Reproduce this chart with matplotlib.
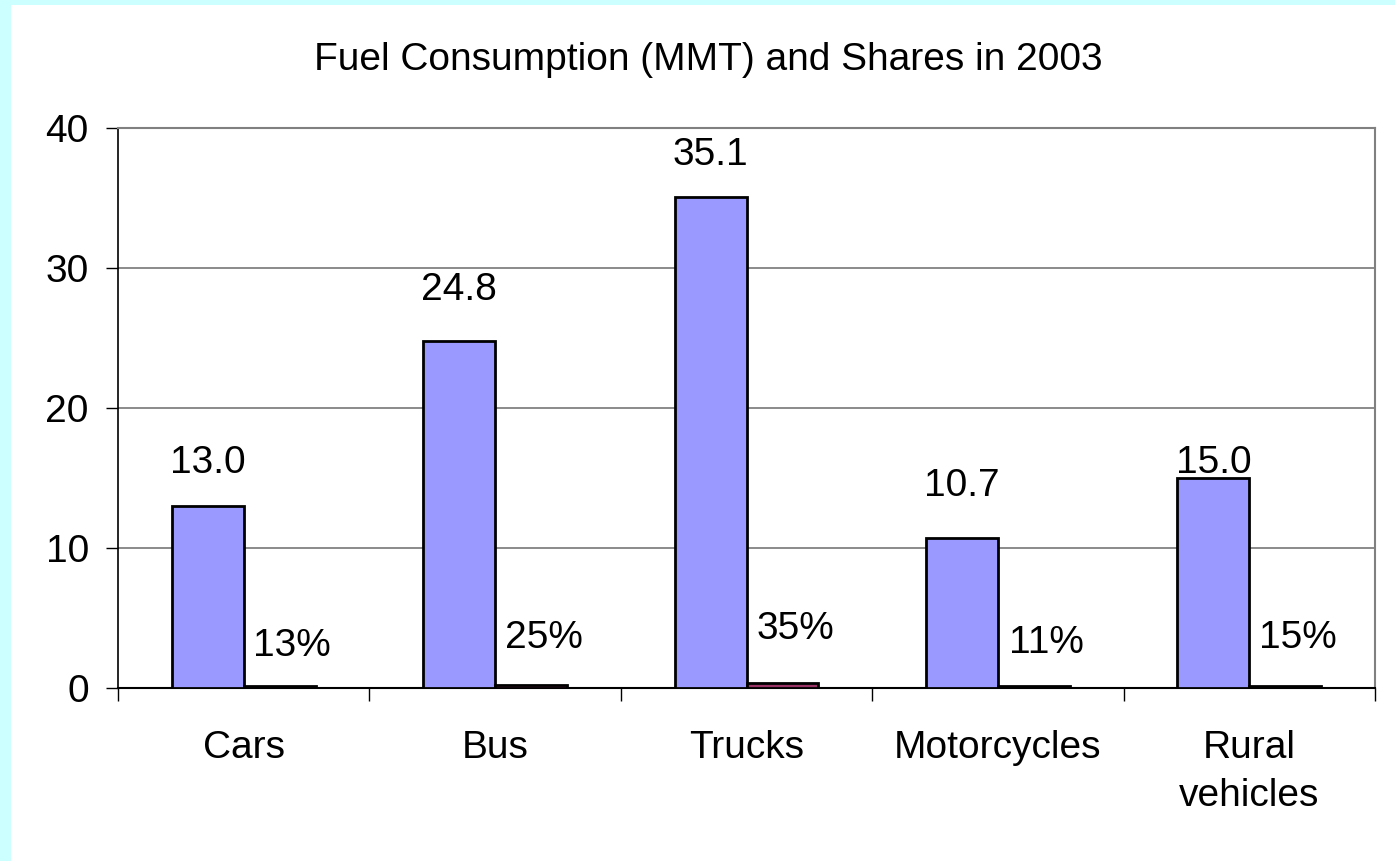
import matplotlib
matplotlib.use("Agg")
import matplotlib.pyplot as plt
from matplotlib.patches import Rectangle
import numpy as np

# ---- data ----
categories = ["Cars", "Bus", "Trucks", "Motorcycles", "Rural\nvehicles"]
consumption = [13.0, 24.8, 35.1, 10.7, 15.0]          # MMT
shares = [0.13, 0.25, 0.35, 0.11, 0.15]                # share of total
value_labels = ["13.0", "24.8", "35.1", "10.7", "15.0"]
share_labels = ["13%", "25%", "35%", "11%", "15%"]
y_ticks = [0, 10, 20, 30, 40]

# ---- layout (label positions, data units) ----
value_label_y = [16.1, 28.4, 38.1, 14.4, 16.1]
share_label_y = [3.0, 3.6, 4.2, 3.2, 3.6]

plt.rcParams['font.family'] = ['Liberation Sans', 'DejaVu Sans']

W, H = 1395, 861
fig = plt.figure(figsize=(W / 100, H / 100), dpi=100)
fig.patch.set_facecolor("white")
cyan = "#CCFFFF"
fig.patches.append(Rectangle((0, 0), 11 / W, 1, transform=fig.transFigure,
                             facecolor=cyan, edgecolor="none", zorder=-10))
fig.patches.append(Rectangle((0, 1 - 5 / H), 1, 5 / H, transform=fig.transFigure,
                             facecolor=cyan, edgecolor="none", zorder=-10))

ax = fig.add_axes([118 / W, 1 - 688 / H, (1375 - 118) / W, (688 - 128) / H])

x = np.arange(len(categories))
bw = 0.286
ax.bar(x - bw / 2, consumption, width=bw, color="#9999FF",
       edgecolor="black", linewidth=2, zorder=3)
ax.bar(x + bw / 2, shares, width=bw, color="#993366",
       edgecolor="black", linewidth=2, zorder=3)

fs = 28
for i in range(len(categories)):
    ax.text(x[i] - bw / 2, value_label_y[i], value_labels[i], ha="center",
            va="center", fontsize=fs, zorder=4)
    ax.text(x[i] + bw / 2 + 0.05, share_label_y[i], share_labels[i], ha="center",
            va="center", fontsize=fs, zorder=4)

ax.set_xlim(-0.5, len(categories) - 0.5)
ax.set_ylim(0, 40)
ax.set_yticks(y_ticks)
ax.set_yticklabels([str(v) for v in y_ticks], fontsize=fs)
ax.set_xticks(np.arange(-0.5, len(categories), 1.0))
ax.set_xticklabels([])
ax.set_xticks(x, minor=True)
ax.set_xticklabels(categories, minor=True, fontsize=fs, linespacing=1.45)
ax.tick_params(axis="x", which="major", length=9, width=1, color="black", direction="out")
ax.tick_params(axis="x", which="minor", length=0, pad=30)
ax.tick_params(axis="y", length=9, width=1, color="black", direction="out", pad=12)

ax.grid(axis="y", color="#777777", linewidth=1.2, zorder=0)
for side in ["top", "right"]:
    ax.spines[side].set_color("#808080")
    ax.spines[side].set_linewidth(1.5)
ax.spines["left"].set_color("black")
ax.spines["bottom"].set_color("black")
ax.spines["left"].set_linewidth(1.2)
ax.spines["bottom"].set_linewidth(1.5)
ax.set_axisbelow(True)

fig.text(708 / W, 1 - 60 / H, "Fuel Consumption (MMT) and Shares in 2003",
         ha="center", va="center", fontsize=28)

fig.savefig("out.png", dpi=100, facecolor=fig.get_facecolor())
